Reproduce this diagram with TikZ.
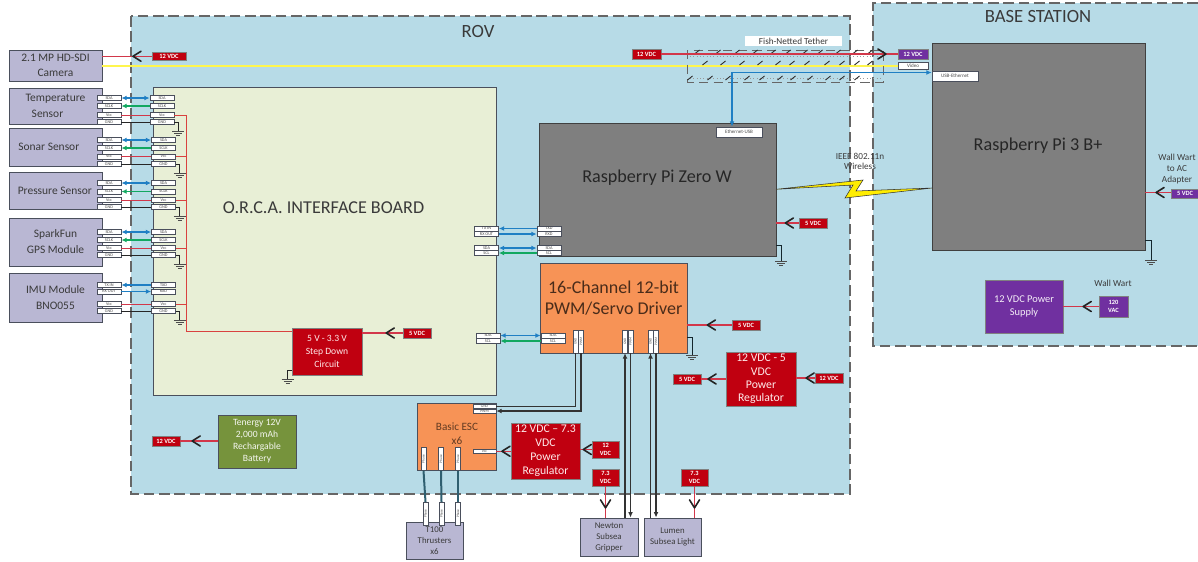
\documentclass[tikz,border=0pt]{standalone}
\usepackage{fontspec}
\setmainfont{Carlito}
\usetikzlibrary{arrows.meta,calc}
\definecolor{panelblue}{HTML}{B7DBE7}
\definecolor{boardgreen}{HTML}{E8EFD6}
\definecolor{lav}{HTML}{B9B7D3}
\definecolor{edgeg}{HTML}{4A4F5C}
\definecolor{pigray}{HTML}{7F7F7F}
\definecolor{orng}{HTML}{F79356}
\definecolor{rd}{HTML}{C00010}
\definecolor{purp}{HTML}{7030A0}
\definecolor{olive}{HTML}{76933C}
\definecolor{wblue}{HTML}{1F7FC4}
\definecolor{wgreen}{HTML}{12A860}
\definecolor{wred}{HTML}{D2374A}
\definecolor{wteal}{HTML}{2F5F70}
\definecolor{ink}{HTML}{3A3A3A}
\newcommand{\fs}[2]{\fontsize{#1}{#2}\selectfont}
\newcommand{\bx}[7]{\node[#2,minimum width={(#5-#3)*0.75pt},minimum height={(#6-#4)*0.75pt}] (#1) at ({(#3+#5)/2},{(#4+#6)/2}) {#7};}
\tikzset{
  x=0.75pt,y=-0.75pt,
  box/.style={draw=edgeg,line width=0.7pt,inner sep=0pt,align=center,text=ink},
  lavbox/.style={box,fill=lav},
  greybox/.style={box,fill=pigray,draw=black!75,text=black!85},
  orbox/.style={box,fill=orng},
  redbox/.style={box,fill=rd,text=white!92!red,draw=black!50},
  purbox/.style={box,fill=purp,text=white!92!purp,draw=black!50},
  tagred/.style={box,fill=rd,text=white,font=\bfseries\fs{4.8}{6.5},draw=black!50,line width=0.4pt},
  tagpur/.style={box,fill=purp,text=white,font=\bfseries\fs{4.8}{6.5},draw=black!50,line width=0.4pt},
  pinbox/.style={draw=edgeg,line width=0.5pt,fill=white,inner sep=0pt,text=black!70,font=\fs{3.2}{3.5},minimum width=18pt,minimum height=4pt},
  vpin/.style={pinbox,rotate=90,minimum width=17pt,minimum height=3.6pt,font=\fs{2.6}{3}},
  title/.style={font=\fs{14}{16},text=ink},
  bigtext/.style={font=\fs{13.6}{16},text=black!85},
  small/.style={font=\fs{6.9}{8},text=ink,align=center},
  blu/.style={wblue,line width=0.9pt},
  both/.style={blu,{Latex[length=4pt,width=3.6pt]}-{Latex[length=4pt,width=3.6pt]}},
  bluel/.style={blu,{Latex[length=4pt,width=3.6pt]}-},
  bluer/.style={blu,-{Latex[length=4pt,width=3.6pt]}},
  grnl/.style={wgreen,line width=0.9pt,{Latex[length=4pt,width=3.6pt]}-},
  vcc/.style={wred,line width=0.7pt},
  bus/.style={wred!85!orange,line width=0.6pt},
  gndw/.style={black!85,line width=0.7pt},
  gndwg/.style={black!60!wteal,line width=0.6pt},
  pwr/.style={wred,line width=0.8pt},
  chev/.pic={\draw[ink!60!black,line width=1.2pt,line cap=round,line join=round] (-8,-5) -- (0,0) -- (-8,5);},
  chv/.style={pos=#1,sloped,allow upside down},
  data/.style={black!80,line width=0.8pt},
  dataa/.style={data,-{Latex[length=4pt,width=3.6pt]}},
  thr/.style={wteal,line width=1.5pt},
  tick/.style={black!80,line width=0.7pt},
  gnd/.pic={\draw[line width=0.6pt,draw=black!70] (-6,0)--(6,0) (-4,2)--(4,2) (-2,4)--(2,4);}
}
\begin{document}
\begin{tikzpicture}
\useasboundingbox (0,0) rectangle (1198,561);
% panels
\fill[panelblue] (131,16) rectangle (850,494);
\draw[black!60,line width=0.9pt,dash pattern=on 8pt off 3.5pt] (131,16) rectangle (850,494);
\fill[panelblue] (873,3) rectangle (1198,346);
\draw[black!60,line width=0.9pt,dash pattern=on 8pt off 3.5pt] (1198,3) -- (873,3) -- (873,346) -- (1198,346);
\node[title] (rovt) at (478,32) {ROV};
\node[title] (baset) at (1038,17) {BASE STATION};
% main boxes
\bx{board}{box,fill=boardgreen}{153}{87}{496}{395}{}
\node[bigtext,text=ink] (boardt) at (323.5,208) {O.R.C.A. INTERFACE BOARD};
\bx{cam}{lavbox,font=\fs{8.6}{11}}{9}{50}{102}{81}{2.1 MP HD-SDI\\Camera}
\bx{temp}{lavbox,font=\fs{8.6}{11}}{9}{88}{102}{124}{Temperature\\[1pt]Sensor\hspace*{12pt}}
\bx{sonar}{lavbox,font=\fs{8.6}{11}}{9}{128}{102}{166}{Sonar Sensor\hspace*{10pt}}
\bx{press}{lavbox,font=\fs{8.6}{11}}{9}{172}{102}{209}{Pressure Sensor\hspace*{1pt}}
\bx{spark}{lavbox,font=\fs{8.6}{11}}{9}{218}{102}{266}{SparkFun\\[1pt]GPS Module}
\bx{imu}{lavbox,font=\fs{8.6}{11}}{9}{273}{102}{322}{IMU Module\\[1pt]BNO055}
\bx{zero}{greybox}{539}{123}{776}{256}{}
\node[bigtext] (zerot) at (657,178) {Raspberry Pi Zero W};
\bx{pi3}{greybox}{932}{43}{1145}{250}{}
\node[bigtext] (pi3t) at (1038,146) {Raspberry Pi 3 B+};
\bx{pwm}{orbox}{540}{263}{687}{353}{}
\node[font=\fs{13.5}{16},text=black!70!orng,align=center] (pwmt) at (613.5,298) {16-Channel 12-bit\\PWM/Servo Driver};
\bx{step}{redbox,font=\fs{7.2}{10}}{292}{328}{362}{375}{5 V - 3.3 V\\Step Down\\Circuit}
\bx{esc}{orbox}{417.5}{403}{496.5}{470.5}{}
\node[font=\fs{8.4}{10.5},text=black!60!orng,align=center] (esct) at (457,434) {Basic ESC\\x6};
\bx{batt}{box,fill=olive,text=white!92!olive,font=\fs{7.2}{9}}{218}{415}{296}{468}{Tenergy 12V\\2,000 mAh\\Rechargable\\Battery}
\bx{reg}{redbox,font=\fs{8.8}{10.5}}{511}{423}{580}{479}{12 VDC -- 7.3\\VDC\\Power\\Regulator}
\bx{regb}{redbox,font=\fs{8.8}{10}}{726}{352}{796}{406}{12 VDC - 5\\VDC\\Power\\Regulator}
\bx{psu}{purbox,font=\fs{7.8}{10}}{985}{280}{1063}{333}{12 VDC Power\\Supply}
\bx{t100}{lavbox,font=\fs{6.6}{8.2}}{406}{522}{463}{559}{T100\\Thrusters\\x6}
\bx{grip}{lavbox,font=\fs{6.6}{8.2}}{580}{518}{638}{556}{Newton\\Subsea\\Gripper}
\bx{lumen}{lavbox,font=\fs{6.6}{8.2}}{644}{518}{701}{556}{Lumen\\Subsea Light}
% voltage tags
\bx{tcam}{tagred}{152}{52}{186}{60.5}{12 VDC}
\bx{ttet}{tagred}{632}{49}{661}{59}{12 VDC}
\bx{tbase}{tagpur}{898}{49}{928}{59}{12 VDC}
\bx{tstep}{tagred}{403}{328}{431}{338}{5 VDC}
\bx{tzero}{tagred}{799}{218}{827}{228}{5 VDC}
\bx{tpi}{tagpur}{1171}{189}{1199}{198}{5 VDC}
\bx{tpwm}{tagred}{732}{320}{760}{330}{5 VDC}
\bx{tro}{tagred}{673}{374}{701}{384}{5 VDC}
\bx{tri}{tagred}{815}{373}{843}{383}{12 VDC}
\bx{tbat}{tagred}{152}{436}{180}{446}{12 VDC}
\bx{tac}{tagpur}{1099}{296}{1128}{317}{120\\VAC}
\bx{tesc}{tagred}{592}{441}{619}{458}{12\\VDC}
\bx{tgr}{tagred}{592}{469}{619}{486}{7.3\\VDC}
\bx{tlu}{tagred}{681}{469}{708}{486}{7.3\\VDC}
% free labels
\node[fill=white,small,minimum width=73pt,minimum height=7.5pt,inner sep=0pt] (tetl) at (793.5,41) {Fish-Netted Tether};
\node[small] (wifi) at (860,161.5) {IEEE 802.11n\\Wireless};
\node[small] (ww) at (1177,169) {Wall Wart\\to AC\\Adapter};
\node[small] (ww2) at (1113,283) {Wall Wart};
% sensor pins
\foreach \n/\rx/\a/\b/\c/\d in {tm/162/98/106/115/122,so/163.5/140/148/156.5/164,pr/163.5/183/191.5/200/207,sp/163.5/232/240/248/255}{
  \node[pinbox] (\n a) at (109,\a) {SDA};
  \node[pinbox] (\n b) at (109,\b) {SCLK};
  \node[pinbox] (\n c) at (109,\c) {Vcc};
  \node[pinbox] (\n d) at (109,\d) {GND};
  \node[pinbox] (\n A) at (\rx,\a) {SDA};
  \node[pinbox] (\n B) at (\rx,\b) {SCLK};
  \node[pinbox] (\n C) at (\rx,\c) {Vcc};
  \node[pinbox] (\n D) at (\rx,\d) {GND};
  \draw[both] (\n a) -- (\n A);
  \draw[grnl] (\n b) -- (\n B);
  \draw[vcc] (\n c) -- (\n C);
  \draw[gndw] (\n d) -- (\n D);
  \draw[bus] (\n C.east) -- (186,\c);
  \draw[gndw] (\n D.east) -| ++(4,9) coordinate (\n G);
  \pic at (\n G) {gnd};
}
\node[pinbox] (ima) at (109,285) {TX IN};
\node[pinbox] (imb) at (109,291.5) {RX OUT};
\node[pinbox] (imc) at (109,304) {Vcc};
\node[pinbox] (imd) at (109,311) {GND};
\node[pinbox] (imA) at (163.5,285) {TXD};
\node[pinbox] (imB) at (163.5,291.5) {RXD};
\node[pinbox] (imC) at (163.5,304) {Vcc};
\node[pinbox] (imD) at (163.5,311) {GND};
\draw[bluel] (ima) -- (imA);
\draw[bluer] (imb) -- (imB);
\draw[vcc] (imc) -- (imC);
\draw[gndw] (imd) -- (imD);
\draw[bus] (imC.east) -- (186,304);
\draw[gndw] (imD.east) -| ++(4,9) coordinate (imG);
\pic at (imG) {gnd};
% bus and step-down
\coordinate (bustop) at (186,115);
\draw[bus] (bustop) -- (186,331) -- (step.west |- 0,331);
\draw[pwr] (tstep.west |- 0,333) -- (step.east |- 0,333) pic[chv=0.41]{chev};
\draw[gndw] ($(step.south west)+(0,-5)$) -| ++(-4,9) coordinate (stepG);
\pic at (stepG) {gnd};
% camera
\draw[pwr] (tcam.west) -- (tcam.west -| cam.east) pic[chv=0.38]{chev};
\draw[yellow!70!white,line width=1.1pt] (cam.east |- 0,66) -- (898,66);
% board to Pi zero
\node[pinbox] (zta) at (486.5,228.5) {TX IN};
\node[pinbox] (ztb) at (486.5,234) {RX OUT};
\node[pinbox] (zsa) at (486.5,248) {SDA};
\node[pinbox] (zsb) at (486.5,253) {SCL};
\node[pinbox] (zTa) at (549,228.5) {TXD};
\node[pinbox] (zTb) at (549,234) {RXD};
\node[pinbox] (zSa) at (549,248) {SDA};
\node[pinbox] (zSb) at (549,253) {SCL};
\draw[bluel] (zta) -- (zTa);
\draw[bluer] (ztb) -- (zTb);
\draw[both] (zsa) -- (zSa);
\draw[grnl] (zsb) -- (zSb);
% board to PWM
\node[pinbox] (psa) at (488,335.5) {SDA};
\node[pinbox] (psb) at (488,341) {SCL};
\node[pinbox] (pSa) at (553,335.5) {SDA};
\node[pinbox] (pSb) at (553,341) {SCL};
\draw[both] (psa) -- (pSa);
\draw[grnl] (psb) -- (pSb);
% Ethernet
\bx{eth}{pinbox,font=\fs{3.8}{4.5}}{716}{127}{762}{137}{Ethernet-USB}
\bx{usb}{pinbox,font=\fs{3.8}{4.5}}{932}{71}{978}{81}{USB-Ethernet}
\bx{vid}{pinbox,font=\fs{3.8}{4.5}}{898}{62}{928}{69}{Video}
% tether
\draw[black!60,line width=0.7pt,dash pattern=on 7pt off 4pt] (687,50) rectangle (883,82);
\draw[black!40,line width=0.5pt,dotted] (690,56) -- (883,56) (690,78) -- (883,78);
\foreach \xx in {697,718,737,755,773,788,805,820,838,855,870}{\draw[tick] (\xx-2.5,54) -- ++(5,-4);}
\foreach \xx in {705,723,742,760,778,792,807,827,842,857,870}{\draw[tick] (\xx-2.5,65) -- ++(5,-4);}
\foreach \xx in {690,710,728,747,762,780,793,810,828,842,857}{\draw[tick] (\xx-2.5,80) -- ++(5,-4);}
\draw[pwr] (ttet.east) -- (tbase.west) pic[chv=0.95]{chev};
\draw[wblue,line width=0.9pt,{Latex[length=4pt,width=3.6pt]}-{Latex[length=4pt,width=3.6pt]}] (eth.north -| 732,0) -- (732,72.5) -- (usb.west |- 0,72.5);
% wireless bolt
\coordinate (b0) at (776,189.3);
\coordinate (b3) at (932,188);
\fill[yellow!95!orange,draw=black!80,line width=0.4pt] (b0) -- (863,180) -- (856,191) -- (b3) -- (845,198) -- (853,185) -- cycle;
% power wires
\draw[pwr] (tzero.west) -- (tzero.west -| zero.east) pic[chv=0.6]{chev};
\draw[pwr] (tpi.west |- 0,192.5) -- (pi3.east |- 0,192.5) pic[chv=0.58]{chev};
\draw[pwr] (tac.west) -- (tac.west -| psu.east) pic[chv=0.44]{chev};
\draw[pwr] (tpwm.west) -- (tpwm.west -| pwm.east) pic[chv=0.55]{chev};
\draw[pwr] (tri.west) -- (tri.west -| regb.east) pic[chv=0.47]{chev};
\draw[pwr] (regb.west |- tro.east) -- (tro.east) pic[chv=0.72]{chev};
\draw[pwr] (batt.west |- tbat.east) -- (tbat.east) pic[chv=0.68]{chev};
\draw[pwr] (tesc.west) -- (tesc.west -| reg.east) pic[chv=0.75]{chev};
% grounds
\draw[gndwg] ($(zero.south east)+(0,-11)$) -| ++(5,16) coordinate (zG);
\pic at (zG) {gnd};
\draw[gndwg] ($(pi3.south east)+(0,-10)$) -| ++(6,20) coordinate (piG);
\pic at (piG) {gnd};
\draw[gndwg] ($(pwm.south east)+(0,-16)$) -| ++(5,18) coordinate (pwG);
\pic at (pwG) {gnd};
% PWM vertical pins
\node[vpin] (p1a) at (575.5,341.5) {GND};
\node[vpin] (p1b) at (581,341.5) {PWM};
\node[vpin] (p2a) at (625,341.5) {GND};
\node[vpin] (p2b) at (630.5,341.5) {PWM};
\node[vpin] (p3a) at (650.5,341.5) {GND};
\node[vpin] (p3b) at (656,341.5) {PWM};
% ESC pins
\bx{egnd}{pinbox,font=\fs{2.8}{3}}{473}{404}{496}{408.5}{GND}
\bx{epwm}{pinbox,font=\fs{2.8}{3}}{473}{409}{496}{413}{PWM}
\bx{evcc}{pinbox,font=\fs{2.8}{3}}{473}{449}{496}{453.5}{Vcc}
\node[vpin] (e1) at (423.5,459) {Phase};
\node[vpin] (e2) at (441,459) {Phase};
\node[vpin] (e3) at (458,459) {Phase};
\node[vpin] (m1) at (425.5,513.5) {Phase};
\node[vpin] (m2) at (441.5,513.5) {Phase};
\node[vpin] (m3) at (458,513.5) {Phase};
\draw[thr] (e1.west) -- (m1.east);
\draw[thr] (e2.west) -- (m2.east);
\draw[thr] (e3.west) -- (m3.east);
% PWM to ESC
\draw[data] (p1a.west) |- (egnd.east);
\draw[dataa] (p1b.west) |- (epwm.east);
\draw[pwr] (reg.west |- evcc.east) -- (evcc.east) pic[chv=0.6]{chev};
% PWM to gripper and light
\draw[dataa] (p2a.west |- grip.north) -- (p2a.west);
\draw[dataa] (p2b.west) -- (p2b.west |- grip.north);
\draw[dataa] (p3a.west |- lumen.north) -- (p3a.west);
\draw[dataa] (p3b.west) -- (p3b.west |- lumen.north);
\draw[pwr] (tgr.south) -- (tgr.south |- grip.north) pic[chv=0.69]{chev};
\draw[pwr] (tlu.south) -- (tlu.south |- lumen.north) pic[chv=0.69]{chev};
\end{tikzpicture}
\end{document}
